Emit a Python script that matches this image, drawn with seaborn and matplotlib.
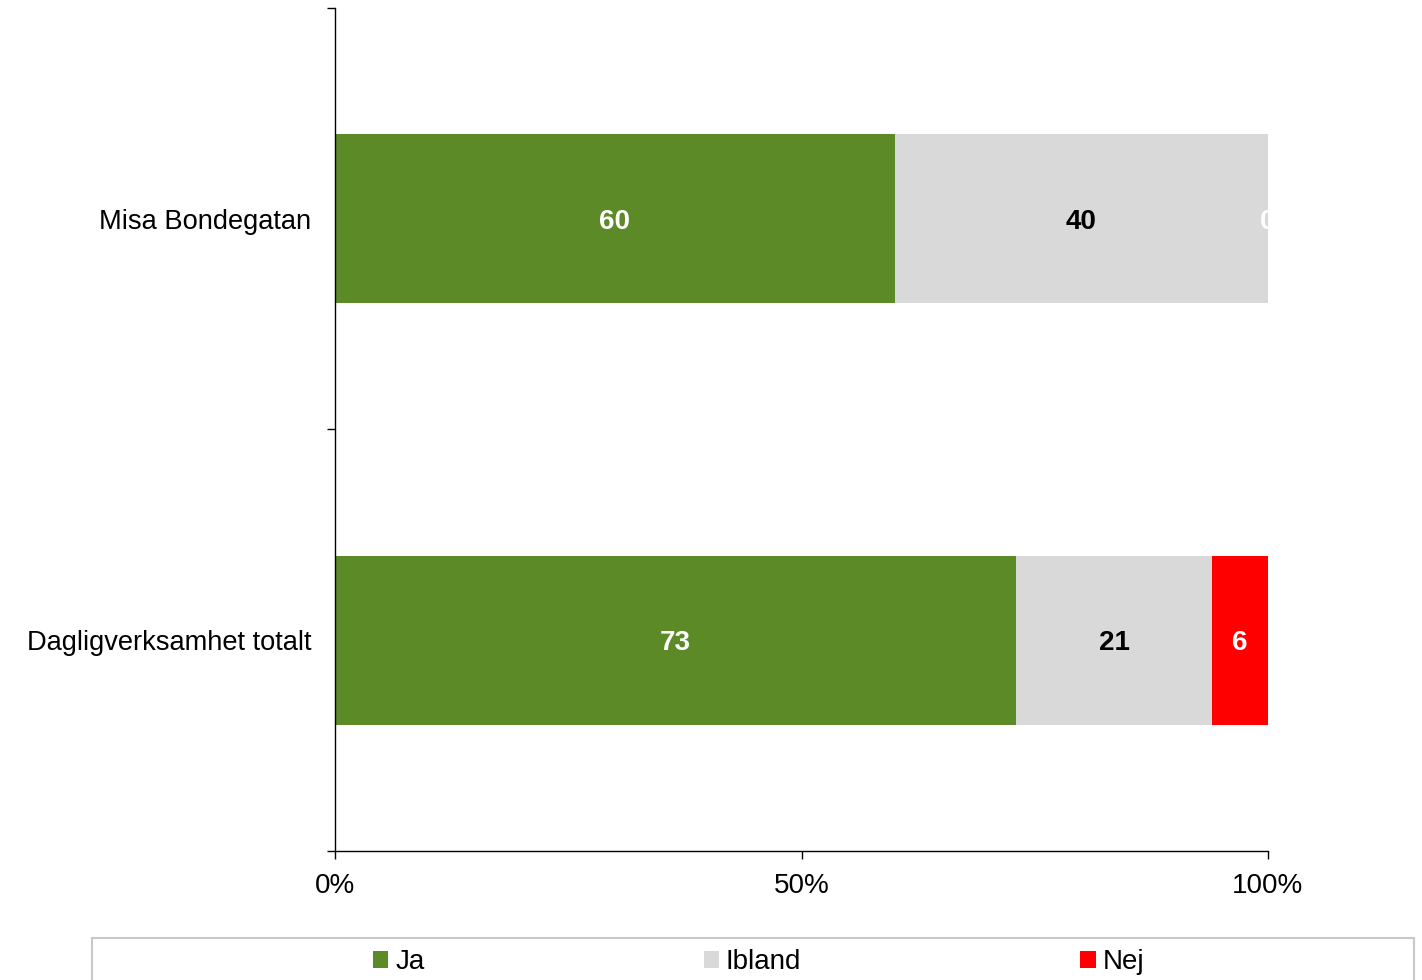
import matplotlib
matplotlib.use("Agg")
import matplotlib.pyplot as plt
import seaborn as sns
import numpy as np
import pandas as pd
from matplotlib.patches import Patch, Rectangle

categories = ["Misa Bondegatan", "Dagligverksamhet totalt"]
series_names = ["Ja", "Ibland", "Nej"]
ja = [60, 73]
ibland = [40, 21]
nej = [0, 6]
x_ticks = [0, 50, 100]
x_tick_labels = ["0%", "50%", "100%"]

colors = {"Ja": "#5B8A27", "Ibland": "#D9D9D9", "Nej": "#FF0000"}
text_colors = {"Ja": "white", "Ibland": "black", "Nej": "white"}

sns.set_theme(style="white")
plt.rcParams['font.family'] = ['Liberation Sans', 'DejaVu Sans']

W, H = 1422, 980
fig = plt.figure(figsize=(W/100, H/100), dpi=100)
ax = fig.add_axes([335/W, 1-851/H, (1268-335)/W, (851-8)/H])

values = {"Ja": np.array(ja), "Ibland": np.array(ibland), "Nej": np.array(nej)}
cum_ja = values["Ja"]
cum_ib = cum_ja + values["Ibland"]
cum_nej = cum_ib + values["Nej"]

for cum, name in [(cum_nej, "Nej"), (cum_ib, "Ibland"), (cum_ja, "Ja")]:
    df = pd.DataFrame({"cat": categories, "val": cum})
    sns.barplot(data=df, x="val", y="cat", color=colors[name], orient="h",
                width=0.4, saturation=1, ax=ax, linewidth=0)

starts = {"Ja": np.zeros(2), "Ibland": cum_ja, "Nej": cum_ib}
for name in series_names:
    for i in range(len(categories)):
        v = values[name][i]
        cx = starts[name][i] + v / 2
        ax.text(cx, i, f"{v}", ha="center", va="center_baseline", color=text_colors[name],
                fontsize=20, fontweight="bold", clip_on=True)

ax.set_xlim(0, 100)
ax.set_ylim(1.5, -0.5)
ax.set_xticks(x_ticks)
ax.set_xticklabels(x_tick_labels, fontsize=20, color="black")
ax.set_yticks([0, 1])
ax.set_yticklabels(categories, fontsize=19.6, color="black")
ax.set_yticks([-0.5, 0.5, 1.5], minor=True)
ax.tick_params(axis="y", which="major", length=0, pad=17)
ax.tick_params(axis="y", which="minor", length=6, width=1, color="black", left=True)
ax.tick_params(axis="x", which="major", length=6, width=1, color="black", bottom=True, pad=10)
ax.set_xlabel("")
ax.set_ylabel("")
for s in ["top", "right"]:
    ax.spines[s].set_visible(False)
for s in ["left", "bottom"]:
    ax.spines[s].set_color("black")
    ax.spines[s].set_linewidth(1)

# legend frame
fig.patches.append(Rectangle((92/W, -0.05), (1414-92)/W, 0.05 + 1 - 938/H,
                             transform=fig.transFigure, facecolor="white",
                             edgecolor="#C8C8C8", linewidth=1.5))

handles = [Patch(facecolor=colors[n], edgecolor="none", label=n) for n in series_names]
leg = fig.legend(handles=handles, loc="center left", ncol=3,
                 bbox_to_anchor=(373/W, 1 - 962/H),
                 fontsize=20, frameon=False, handlelength=0.55,
                 handleheight=0.55, handletextpad=0.25, borderaxespad=0,
                 borderpad=0, columnspacing=10.05, labelcolor="black")

fig.savefig("out.png", dpi=100)
